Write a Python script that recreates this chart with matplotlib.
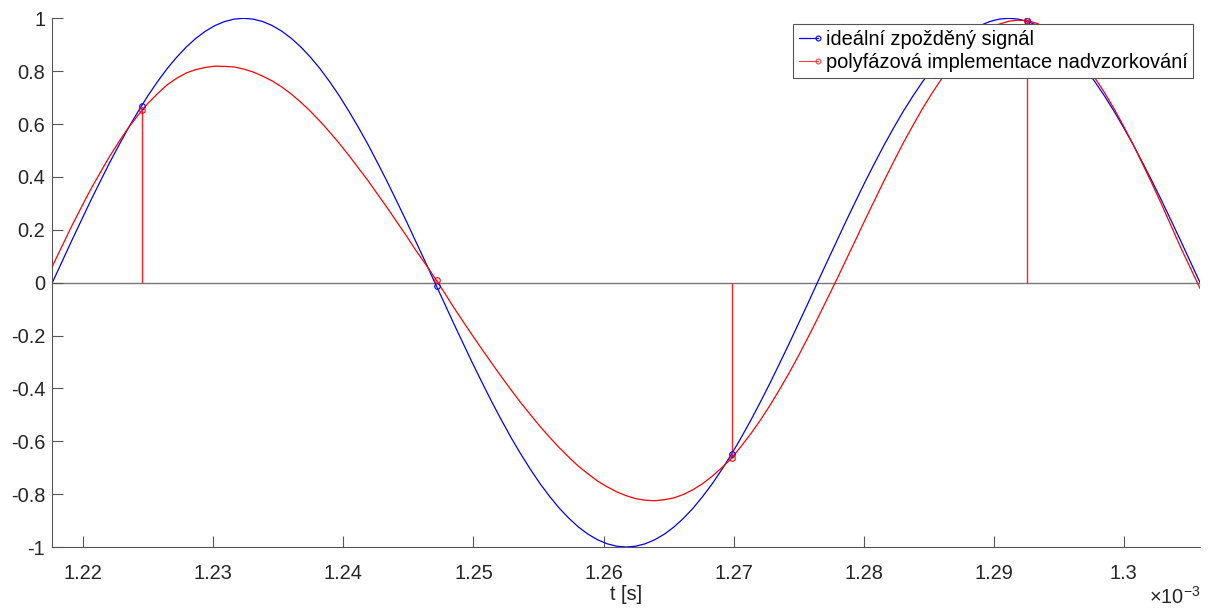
import matplotlib
matplotlib.use("Agg")
import matplotlib.pyplot as plt
from matplotlib.lines import Line2D
from matplotlib.legend_handler import HandlerBase

plt.rcParams['font.family'] = ['Liberation Sans', 'DejaVu Sans']
plt.rcParams['axes.unicode_minus'] = False
plt.rcParams['mathtext.fontset'] = 'custom'
plt.rcParams['mathtext.rm'] = 'Liberation Sans'
plt.rcParams['mathtext.it'] = 'Liberation Sans'

# time axis [ms]
t = [1.21762, 1.21836, 1.21909, 1.21983, 1.22056, 1.22130, 1.22203, 1.22277, 1.22350, 1.22424,
     1.22497, 1.22571, 1.22644, 1.22718, 1.22791, 1.22865, 1.22939, 1.23012, 1.23086, 1.23159,
     1.23233, 1.23306, 1.23380, 1.23453, 1.23527, 1.23600, 1.23674, 1.23747, 1.23821, 1.23894,
     1.23968, 1.24041, 1.24115, 1.24189, 1.24262, 1.24336, 1.24409, 1.24483, 1.24556, 1.24630,
     1.24703, 1.24777, 1.24850, 1.24924, 1.24997, 1.25071, 1.25144, 1.25218, 1.25291, 1.25365,
     1.25439, 1.25512, 1.25586, 1.25659, 1.25733, 1.25806, 1.25880, 1.25953, 1.26027, 1.26100,
     1.26174, 1.26247, 1.26321, 1.26394, 1.26468, 1.26542, 1.26615, 1.26689, 1.26762, 1.26836,
     1.26909, 1.26983, 1.27056, 1.27130, 1.27203, 1.27277, 1.27350, 1.27424, 1.27497, 1.27571,
     1.27644, 1.27718, 1.27792, 1.27865, 1.27939, 1.28012, 1.28086, 1.28159, 1.28233, 1.28306,
     1.28380, 1.28453, 1.28527, 1.28600, 1.28674, 1.28747, 1.28821, 1.28894, 1.28968, 1.29042,
     1.29115, 1.29189, 1.29262, 1.29336, 1.29409, 1.29483, 1.29556, 1.29630, 1.29703, 1.29777,
     1.29850, 1.29924, 1.29997, 1.30071, 1.30144, 1.30218, 1.30292, 1.30365, 1.30439, 1.30512,
     1.30586]

ideal = [0.0, 0.0785, 0.1564, 0.2334, 0.3090, 0.3827, 0.4540, 0.5225, 0.5878, 0.6494,
         0.7071, 0.7604, 0.8090, 0.8526, 0.8910, 0.9239, 0.9511, 0.9724, 0.9877, 0.9969,
         1.0, 0.9969, 0.9877, 0.9724, 0.9511, 0.9239, 0.8910, 0.8526, 0.8090, 0.7604,
         0.7071, 0.6494, 0.5878, 0.5225, 0.4540, 0.3827, 0.3090, 0.2334, 0.1564, 0.0785,
         0.0, -0.0785, -0.1564, -0.2334, -0.3090, -0.3827, -0.4540, -0.5225, -0.5878, -0.6494,
         -0.7071, -0.7604, -0.8090, -0.8526, -0.8910, -0.9239, -0.9511, -0.9724, -0.9877, -0.9969,
         -1.0, -0.9969, -0.9877, -0.9724, -0.9511, -0.9239, -0.8910, -0.8526, -0.8090, -0.7604,
         -0.7071, -0.6494, -0.5878, -0.5225, -0.4540, -0.3827, -0.3090, -0.2334, -0.1564, -0.0785,
         0.0, 0.0785, 0.1564, 0.2334, 0.3090, 0.3827, 0.4540, 0.5225, 0.5878, 0.6494,
         0.7071, 0.7604, 0.8090, 0.8526, 0.8910, 0.9239, 0.9511, 0.9724, 0.9877, 0.9969,
         1.0, 0.9969, 0.9877, 0.9724, 0.9511, 0.9239, 0.8910, 0.8526, 0.8090, 0.7604,
         0.7071, 0.6494, 0.5878, 0.5225, 0.4540, 0.3827, 0.3090, 0.2334, 0.1564, 0.0785,
         0.0]

poly = [0.062, 0.137, 0.212, 0.283, 0.352, 0.416, 0.478, 0.535, 0.588, 0.635,
        0.678, 0.715, 0.748, 0.773, 0.793, 0.806, 0.814, 0.819, 0.818, 0.816,
        0.808, 0.797, 0.781, 0.763, 0.740, 0.713, 0.682, 0.648, 0.610, 0.570,
        0.527, 0.482, 0.434, 0.386, 0.335, 0.284, 0.231, 0.178, 0.123, 0.071,
        0.018, -0.038, -0.095, -0.150, -0.203, -0.256, -0.307, -0.358, -0.407, -0.455,
        -0.500, -0.544, -0.585, -0.624, -0.660, -0.694, -0.723, -0.750, -0.772, -0.791,
        -0.806, -0.817, -0.823, -0.825, -0.821, -0.814, -0.801, -0.783, -0.760, -0.732,
        -0.700, -0.665, -0.620, -0.573, -0.522, -0.466, -0.407, -0.344, -0.278, -0.208,
        -0.137, -0.063, 0.011, 0.087, 0.163, 0.239, 0.314, 0.388, 0.460, 0.530,
        0.596, 0.659, 0.718, 0.772, 0.821, 0.865, 0.903, 0.934, 0.960, 0.978,
        0.989, 0.993, 0.991, 0.980, 0.963, 0.938, 0.908, 0.870, 0.826, 0.775,
        0.720, 0.659, 0.593, 0.523, 0.449, 0.373, 0.294, 0.213, 0.131, 0.055,
        -0.022]

# sample instants (fs = 44.1 kHz)
ts = [1.22449, 1.24717, 1.26984, 1.29252]
ideal_s = [0.669, -0.013, -0.649, 0.989]
poly_s = [0.652, 0.010, -0.665, 0.992]

xticks = [1.22, 1.23, 1.24, 1.25, 1.26, 1.27, 1.28, 1.29, 1.30]
xlabels = ['1.22', '1.23', '1.24', '1.25', '1.26', '1.27', '1.28', '1.29', '1.3']
yticks = [-1, -0.8, -0.6, -0.4, -0.2, 0, 0.2, 0.4, 0.6, 0.8, 1]
ylabels = ['-1', '-0.8', '-0.6', '-0.4', '-0.2', '0', '0.2', '0.4', '0.6', '0.8', '1']

blue = '#0000ff'
red = '#ff0000'
axcol = '#262626'
fs = 14.4


class StemHandler(HandlerBase):
    def create_artists(self, legend, orig_handle, xdescent, ydescent, width, height, fontsize, trans):
        y = height / 2 - ydescent
        c = orig_handle.get_color()
        ln = Line2D([-xdescent, width - xdescent], [y, y], color=c, lw=orig_handle.get_linewidth(), transform=trans)
        mk = Line2D([width - xdescent], [y], marker='o', ms=3.5, mfc='none', mec=c, mew=0.8, ls='none', transform=trans)
        return [ln, mk]


fig = plt.figure(figsize=(12.12, 6.08), dpi=100)
ax = fig.add_axes([0.04315, 0.1003, 0.9470, 0.8696])

ax.axhline(0, color='#777777', lw=1.0, zorder=1)

ax.plot(t, ideal, color=blue, lw=0.9, zorder=2)
ax.plot(t, poly, color=red, lw=0.9, zorder=3)

ax.vlines(ts, 0, poly_s, color='#ff2020', lw=1.0, zorder=3)
ax.plot(ts, ideal_s, ls='none', marker='o', ms=4, mfc='none', mec=blue, mew=0.8, zorder=4)
ax.plot(ts, poly_s, ls='none', marker='o', ms=4, mfc='none', mec=red, mew=0.8, zorder=4)

ax.set_xlim(t[0], t[-1])
ax.set_ylim(-1, 1)
ax.set_xticks(xticks)
ax.set_xticklabels(xlabels)
ax.set_yticks(yticks)
ax.set_yticklabels(ylabels)
ax.tick_params(direction='in', length=8, width=0.8, color='#555555', labelsize=fs, labelcolor=axcol)
ax.tick_params(axis='x', pad=12.5)
ax.tick_params(axis='y', pad=5)
for s in ['top', 'right']:
    ax.spines[s].set_visible(False)
for s in ['left', 'bottom']:
    ax.spines[s].set_color('#555555')
    ax.spines[s].set_linewidth(0.8)

ax.set_xlabel('t [s]', fontsize=fs, color=axcol, labelpad=1.5)
fig.text(1200 / 1212, 1 - 597 / 608, r'$\times10^{-3}$', ha='right', va='center', fontsize=fs, color=axcol)

h1 = Line2D([], [], color=blue, lw=0.9)
h2 = Line2D([], [], color='#ff4040', lw=0.8)
leg = fig.legend([h1, h2], ['ideální zpožděný signál', 'polyfázová implementace nadvzorkování'],
                 handler_map={Line2D: StemHandler()},
                 loc='upper right', bbox_to_anchor=(1192.7 / 1212, 1 - 24.3 / 608),
                 fontsize=fs, frameon=True, fancybox=False, framealpha=1,
                 handlelength=0.95, handletextpad=0.4, borderpad=0.27, labelspacing=0.23,
                 borderaxespad=0)
leg.get_frame().set_edgecolor('#555555')
leg.get_frame().set_linewidth(0.8)

fig.savefig('out.png', dpi=100)
